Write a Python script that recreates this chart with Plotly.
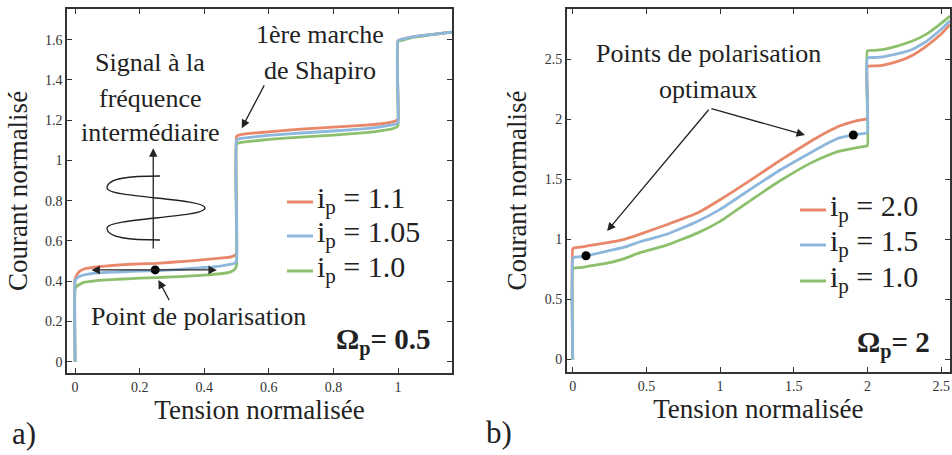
import plotly.graph_objects as go

FONT = "'Liberation Serif', 'DejaVu Serif', 'Times New Roman', serif"
INK = "#222222"
AX = "#333333"
RED = "#E8876A"
BLUE = "#8DB7DC"
GREEN = "#8CC06C"
W, H = 952, 455

# ---------------- panel a) : Omega_p = 0.5 ----------------
va = [0, 0, 0.005, 0.015, 0.03, 0.06, 0.1, 0.15, 0.2, 0.25, 0.3, 0.35, 0.4, 0.45,
      0.48, 0.495, 0.5, 0.5, 0.51, 0.55, 0.6, 0.7, 0.8, 0.9, 0.95, 0.98, 0.995,
      1.0, 1.0, 1.02, 1.05, 1.1, 1.167]
ia_110 = [0, 0.41, 0.43, 0.45, 0.462, 0.47, 0.476, 0.482, 0.486, 0.489, 0.494, 0.5,
          0.507, 0.515, 0.52, 0.53, 0.54, 1.12, 1.127, 1.135, 1.142, 1.155, 1.165,
          1.175, 1.182, 1.19, 1.198, 1.205, 1.595, 1.605, 1.615, 1.625, 1.637]
ia_105 = [0, 0.40, 0.415, 0.425, 0.432, 0.44, 0.444, 0.447, 0.45, 0.452, 0.456, 0.462,
          0.468, 0.475, 0.483, 0.49, 0.50, 1.10, 1.108, 1.116, 1.124, 1.136, 1.146,
          1.158, 1.168, 1.176, 1.182, 1.19, 1.595, 1.605, 1.615, 1.625, 1.637]
ia_100 = [0, 0.36, 0.375, 0.385, 0.395, 0.402, 0.407, 0.411, 0.415, 0.418, 0.421, 0.425,
          0.43, 0.437, 0.445, 0.46, 0.48, 1.08, 1.088, 1.096, 1.104, 1.116, 1.126,
          1.138, 1.148, 1.156, 1.165, 1.175, 1.59, 1.60, 1.612, 1.623, 1.637]
labels_a = ["1.1", "1.05", "1.0"]
xticks_a = [0, 0.2, 0.4, 0.6, 0.8, 1]
yticks_a = [0, 0.2, 0.4, 0.6, 0.8, 1, 1.2, 1.4, 1.6]
bias_a = (0.248, 0.456)

# ---------------- panel b) : Omega_p = 2 ----------------
vb = [0, 0, 0.01, 0.05, 0.1, 0.226, 0.35, 0.457, 0.633, 0.841, 1.0, 1.225, 1.41,
      1.61, 1.72, 1.81, 1.93, 1.98, 2.0, 2.0, 2.05, 2.1, 2.2, 2.3, 2.4, 2.5, 2.56]
ib_20 = [0, 0.92, 0.93, 0.935, 0.945, 0.97, 1.0, 1.044, 1.12, 1.217, 1.33, 1.508, 1.66,
         1.813, 1.89, 1.944, 1.99, 2.0, 2.01, 2.44, 2.445, 2.45, 2.48, 2.53, 2.61, 2.71, 2.79]
ib_15 = [0, 0.84, 0.85, 0.855, 0.865, 0.90, 0.935, 0.98, 1.04, 1.147, 1.25, 1.433, 1.58,
         1.72, 1.795, 1.845, 1.875, 1.882, 1.89, 2.51, 2.515, 2.52, 2.545, 2.58, 2.65, 2.75, 2.82]
ib_10 = [0, 0.75, 0.76, 0.765, 0.775, 0.80, 0.84, 0.89, 0.95, 1.05, 1.15, 1.34, 1.49,
         1.633, 1.695, 1.735, 1.765, 1.775, 1.78, 2.57, 2.575, 2.58, 2.61, 2.65, 2.71, 2.80, 2.86]
labels_b = ["2.0", "1.5", "1.0"]
xticks_b = [0, 0.5, 1, 1.5, 2, 2.5]
yticks_b = [0, 0.5, 1, 1.5, 2, 2.5]
bias_b = ([0.09, 1.904], [0.863, 1.869])

fig = go.Figure()
LW = 2.8


def add(x, y, color, xa, ya, name):
    fig.add_trace(go.Scatter(x=x, y=y, mode="lines", name=name,
                             line=dict(color=color, width=LW, shape="spline", smoothing=0.4),
                             xaxis=xa, yaxis=ya, showlegend=False,
                             hoverinfo="skip"))


# draw order: red, green, blue on top
add(va, ia_110, RED, "x", "y", "ip=1.1")
add(va, ia_100, GREEN, "x", "y", "ip=1.0")
add(va, ia_105, BLUE, "x", "y", "ip=1.05")
add(vb, ib_20, RED, "x2", "y2", "ip=2.0")
add(vb, ib_10, GREEN, "x2", "y2", "ip=1.0")
add(vb, ib_15, BLUE, "x2", "y2", "ip=1.5")

fig.add_trace(go.Scatter(x=[bias_a[0]], y=[bias_a[1]], mode="markers",
                         marker=dict(color="black", size=9), xaxis="x", yaxis="y",
                         showlegend=False, hoverinfo="skip"))
fig.add_trace(go.Scatter(x=bias_b[0], y=bias_b[1], mode="markers",
                         marker=dict(color="black", size=9), xaxis="x2", yaxis="y2",
                         showlegend=False, hoverinfo="skip"))


def axis(domain, rng, tickvals, anchor, title, standoff):
    return dict(domain=domain, range=rng, anchor=anchor, tickvals=tickvals,
                ticktext=[("%g" % v) for v in tickvals],
                ticks="inside", ticklen=5, tickwidth=1.2, tickcolor=AX,
                showline=True, linecolor=AX, linewidth=1.5, mirror="ticks",
                showgrid=False, zeroline=False,
                tickfont=dict(family=FONT, size=14, color=AX),
                title=dict(text=title, font=dict(family=FONT, size=27, color=INK),
                           standoff=standoff))


fig.update_layout(
    width=W, height=H, margin=dict(l=0, r=0, t=0, b=0),
    paper_bgcolor="white", plot_bgcolor="white",
    font=dict(family=FONT, color=INK),
    xaxis=axis([67 / W, 452 / W], [-0.025, 1.167], xticks_a, "y", "Tension normalisée", 6),
    yaxis=axis([1 - 373 / H, 1 - 9 / H], [-0.056, 1.752], yticks_a, "x", "Courant normalisé", 10),
    xaxis2=axis([566.7 / W, 950 / W], [-0.041, 2.56], xticks_b, "y2", "Tension normalisée", 6),
    yaxis2=axis([1 - 372 / H, 1 - 9 / H], [-0.105, 2.919], yticks_b, "x2", "Courant normalisé", 10),
)

ann = []
shapes = []


def P(px, py):
    return px / W, 1 - py / H


def text(px, py, s, size, anchor="center"):
    x, y = P(px, py)
    ann.append(dict(x=x, y=y, xref="paper", yref="paper", text=s, showarrow=False,
                    xanchor=anchor, yanchor="middle",
                    font=dict(family=FONT, size=size, color=INK)))


def arrow(xr, yr, x, y, ax, ay, side="end"):
    ann.append(dict(x=x, y=y, ax=ax, ay=ay, xref=xr, yref=yr, axref=xr, ayref=yr,
                    text="", showarrow=True, arrowhead=2, arrowsize=1.3,
                    arrowwidth=1.3, arrowcolor=INK, arrowside=side,
                    standoff=0, startstandoff=0))


# ---- panel a annotations
text(150, 63, "Signal à la", 26)
text(150, 98, "fréquence", 26)
text(150, 132, "intermédiaire", 26)
text(320, 35, "1ère marche", 26)
text(320, 70, "de Shapiro", 26)
text(198, 316, "Point de polarisation", 26)
text(383, 341, "<b>Ω<sub>p</sub>= 0.5</b>", 29)
text(24, 433, "a)", 31)
arrow("x", "y", 0.516, 1.160, 0.588, 1.380)                 # Shapiro
arrow("x", "y", 0.242, 1.060, 0.242, 0.555)                 # signal up arrow
arrow("x", "y", 0.439, 0.456, 0.046, 0.456, "end+start")    # double arrow
arrow("x", "y", 0.258, 0.406, 0.294, 0.298)                 # point de polarisation

# sine glyph (pixel path)
pts = [(160, 176), (130, 176), (107, 178), (107, 188), (107, 198), (205, 198), (205, 208),
       (205, 218), (107, 218), (107, 228), (107, 238), (130, 240), (160, 240)]
pp = [P(*p) for p in pts]
path = "M %f,%f" % pp[0]
for i in range(1, len(pp), 3):
    path += " C %f,%f %f,%f %f,%f" % (pp[i] + pp[i + 1] + pp[i + 2])
shapes.append(dict(type="path", path=path, xref="paper", yref="paper",
                   line=dict(color=INK, width=1.3)))

# legend a
for lab, col, py in zip(labels_a, [RED, BLUE, GREEN], [202, 236, 271]):
    x0, y0 = P(287, py)
    x1, _ = P(313, py)
    shapes.append(dict(type="line", x0=x0, x1=x1, y0=y0, y1=y0, xref="paper", yref="paper",
                       line=dict(color=col, width=3)))
    text(315, py - 2, "i<sub>p</sub> = " + lab, 30, "left")

# ---- panel b annotations
text(708, 53, "Points de polarisation", 26)
text(708, 90, "optimaux", 26)
text(893, 344, "<b>Ω<sub>p</sub>= 2</b>", 29)
text(499, 432, "b)", 31)
arrow("x2", "y2", 0.233, 1.069, 0.931, 2.092)
arrow("x2", "y2", 1.576, 1.869, 0.931, 2.092)

for lab, col, py in zip(labels_b, [RED, BLUE, GREEN], [210, 245, 281]):
    x0, y0 = P(800, py)
    x1, _ = P(826, py)
    shapes.append(dict(type="line", x0=x0, x1=x1, y0=y0, y1=y0, xref="paper", yref="paper",
                       line=dict(color=col, width=3)))
    text(828, py - 2, "i<sub>p</sub> = " + lab, 30, "left")

fig.update_layout(annotations=ann, shapes=shapes)
fig.write_html("out.html",
               config={"displayModeBar": False},
               post_script="document.body.style.margin='0px';"
                           "document.body.style.overflow='hidden';")
